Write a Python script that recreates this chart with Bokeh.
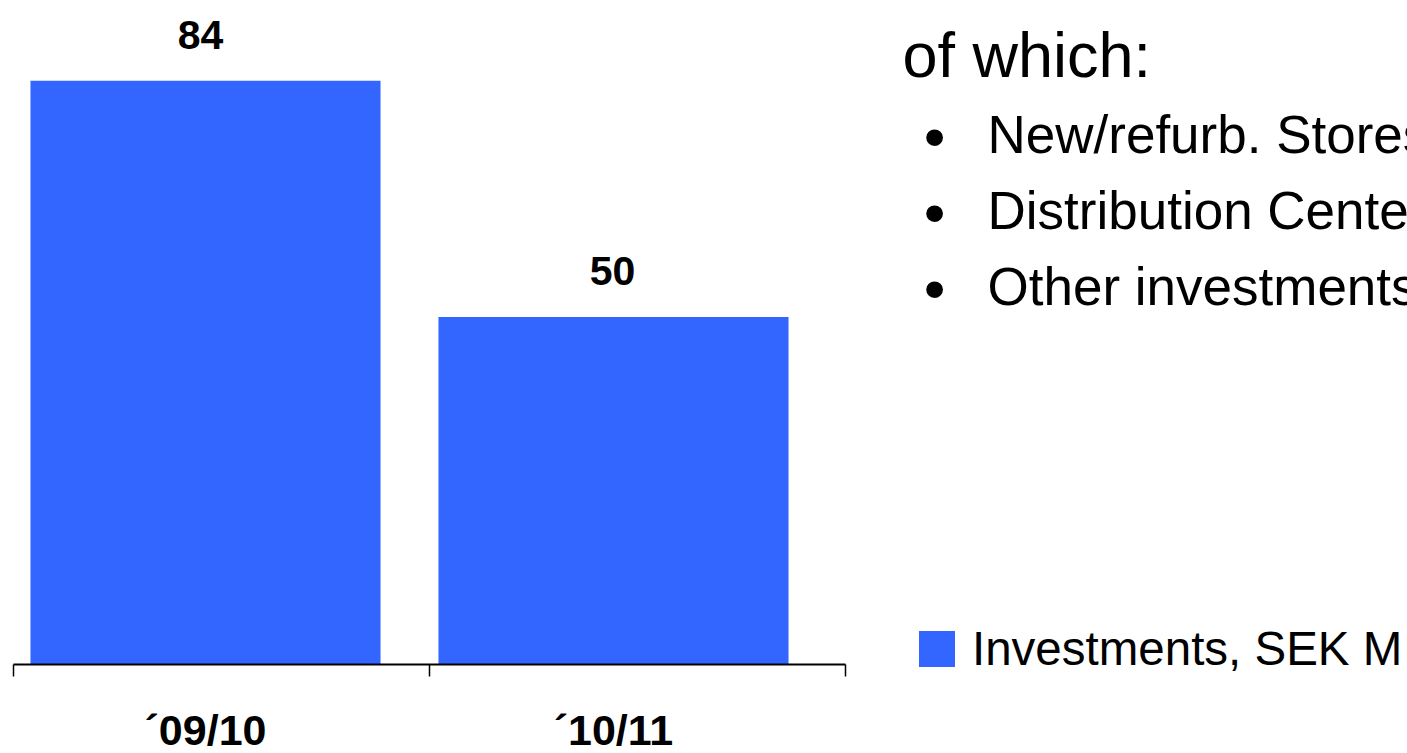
from bokeh.plotting import figure
from bokeh.models import (Range1d, FixedTicker, ColumnDataSource, LabelSet, Label)
from bokeh.core.properties import value
from bokeh.embed import file_html
from bokeh.resources import INLINE

categories = ["\u00b409/10", "\u00b410/11"]
investments = [84, 50]
series_name = "Investments, SEK M"
heading = "of which:"
bullets = ["New/refurb. Stores", "Distribution Center", "Other investments"]

FONT = "Liberation Sans"
BLUE = "#3366FF"
W, H = 1407, 753

# scale: one category = 408 px, first bar centred at 205 px; y: 0 at 664 px, 6.95 px per unit
x0_px, x_unit = 205, 408
y0_px, y_unit = 664, 6.95
x_range = Range1d(-x0_px / x_unit, (W - x0_px) / x_unit)
y_range = Range1d(-(H - y0_px) / y_unit, y0_px / y_unit)
axis_lo, axis_hi = (13 - x0_px) / x_unit, (845 - x0_px) / x_unit

xs = list(range(len(categories)))
src = ColumnDataSource(dict(x=xs, v=investments, lab=[str(v) for v in investments],
                            dx=[-5, -1]))

p = figure(width=W, height=H, output_backend="svg", toolbar_location=None,
           x_range=x_range, y_range=y_range, y_axis_location=None,
           min_border_left=0, min_border_right=0, min_border_top=0, min_border_bottom=0)
p.outline_line_color = None
p.grid.visible = False
p.background_fill_color = "white"
p.border_fill_color = "white"

p.vbar(x="x", top="v", width=0.858, bottom=0, source=src, fill_color=BLUE,
       line_color=None, legend_label=series_name)

ax = p.xaxis[0]
ax.fixed_location = 0
ax.bounds = (axis_lo, axis_hi)
ax.ticker = FixedTicker(ticks=xs, minor_ticks=[axis_lo, (axis_lo + axis_hi) / 2, axis_hi])
ax.major_label_overrides = {i: c for i, c in enumerate(categories)}
ax.major_tick_out = 0
ax.major_tick_in = 0
ax.minor_tick_out = 12
ax.minor_tick_in = 0
ax.minor_tick_line_color = "black"
ax.minor_tick_line_width = 1.5
ax.axis_line_width = 2
ax.axis_line_color = "black"
ax.major_label_text_font = FONT
ax.major_label_text_font_style = "bold"
ax.major_label_text_font_size = "43px"
ax.major_label_text_color = "black"
ax.major_label_standoff = 29

labels = LabelSet(x="x", y="v", text="lab", source=src, text_align="center",
                  text_baseline="alphabetic", y_offset=32, x_offset="dx",
                  text_font=value(FONT), text_font_style="bold", text_font_size="41px",
                  text_color="black")
p.add_layout(labels)


def lab(px, cy, text, size, align="left"):
    return Label(x=px, y=H - cy, x_units="screen", y_units="screen",
                 text=text, text_font=FONT, text_font_size=size, text_baseline="middle",
                 text_align=align, text_color="black")


p.add_layout(lab(902, 54, heading, "63px"))
for i, b in enumerate(bullets):
    cy = 134 + 76 * i
    p.add_layout(lab(934, cy + 2, "\u2022", "62px", "center"))
    p.add_layout(lab(987, cy, b, "53px"))

lg = p.legend[0]
lg.location = (914, 77)
lg.padding = 0
lg.margin = 0
lg.border_line_color = None
lg.background_fill_alpha = 0
lg.glyph_width = 45
lg.glyph_height = 45
lg.label_standoff = 13
lg.label_text_font = FONT
lg.label_text_font_size = "47.5px"
lg.label_text_color = "black"

open("out.html", "w").write(file_html(p, INLINE))
